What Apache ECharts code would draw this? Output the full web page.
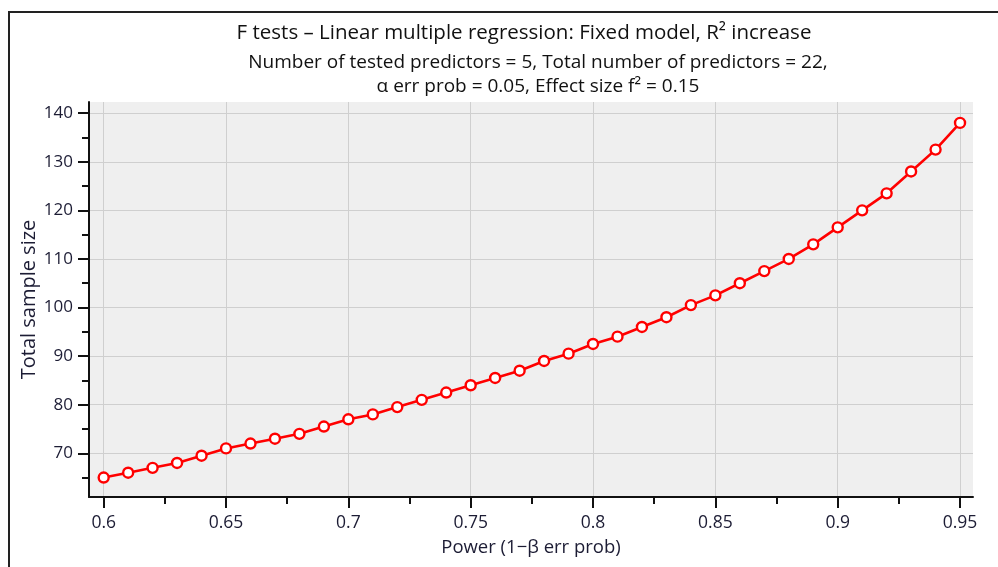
<!DOCTYPE html>
<html>
<head>
<meta charset="utf-8">
<script src="https://cdn.jsdelivr.net/npm/echarts@6/dist/echarts.min.js"></script>
<style>
  html, body { margin: 0; padding: 0; background: #fff; }
  #chart { width: 998px; height: 567px; }
</style>
</head>
<body>
<div id="chart"></div>
<script>
// power values (x) and total sample size (y)
var power = [0.60, 0.61, 0.62, 0.63, 0.64, 0.65, 0.66, 0.67, 0.68, 0.69,
             0.70, 0.71, 0.72, 0.73, 0.74, 0.75, 0.76, 0.77, 0.78, 0.79,
             0.80, 0.81, 0.82, 0.83, 0.84, 0.85, 0.86, 0.87, 0.88, 0.89,
             0.90, 0.91, 0.92, 0.93, 0.94, 0.95];
var sampleSize = [65, 66, 67, 68, 69.5, 71, 72, 73, 74, 75.5,
                  77, 78, 79.5, 81, 82.5, 84, 85.5, 87, 89, 90.5,
                  92.5, 94, 96, 98, 100.5, 102.5, 105, 107.5, 110, 113,
                  116.5, 120, 123.5, 128, 132.5, 138];
var xTicks = [0.6, 0.65, 0.7, 0.75, 0.8, 0.85, 0.9, 0.95];
var xMinorTicks = [0.625, 0.675, 0.725, 0.775, 0.825, 0.875, 0.925];
var yTicks = [70, 80, 90, 100, 110, 120, 130, 140];
var yMinorTicks = [65, 75, 85, 95, 105, 115, 125, 135];

var font = 'Open Sans';
var txt = '#1c1c34';

var points = [];
for (var i = 0; i < power.length; i++) {
  points.push([power[i], sampleSize[i]]);
}

var options = {};
options.backgroundColor = '#ffffff';
options.animation = false;
options.title = [
  {
    text: 'F tests \u2013 Linear multiple regression: Fixed model, R\u00b2 increase',
    left: 519, top: 18, textAlign: 'center',
    textStyle: { fontFamily: font, fontSize: 20.5, fontWeight: 'normal', color: '#111' }
  },
  {
    text: 'Number of tested predictors = 5, Total number of predictors = 22,\n\u03b1 err prob = 0.05, Effect size f\u00b2 = 0.15',
    left: 533, top: 46, textAlign: 'center',
    textStyle: { fontFamily: font, fontSize: 19, fontWeight: 'normal', color: '#111', lineHeight: 24, align: 'center' }
  }
];
options.graphic = [{
  type: 'rect',
  shape: { x: 9, y: 12, width: 1100, height: 700 },
  style: { fill: 'none', stroke: '#222', lineWidth: 2 },
  silent: true
}];
options.grid = {
  left: 89, right: 25, top: 102, bottom: 70,
  show: true, backgroundColor: '#efefef', borderWidth: 0
};
options.xAxis = [
  {
    type: 'value', min: 0.594, max: 0.9553,
    name: 'Power (1\u2212\u03b2 err prob)', nameLocation: 'middle', nameGap: 41,
    nameTextStyle: { fontFamily: font, fontSize: 18.5, color: txt },
    axisLine: { show: true, lineStyle: { color: '#111', width: 2 } },
    axisTick: { show: true, length: 11, customValues: xTicks, lineStyle: { color: '#111', width: 2 } },
    axisLabel: { customValues: xTicks, fontFamily: font, fontSize: 17.5, color: txt, margin: 17,
      formatter: function (v) { return String(+v.toFixed(3)); } },
    splitLine: { show: true, lineStyle: { color: '#cfcfcf', width: 1 } }
  },
  {
    type: 'value', min: 0.594, max: 0.9553, position: 'bottom',
    axisLine: { show: false },
    axisTick: { show: true, length: 7, customValues: xMinorTicks, lineStyle: { color: '#111', width: 2 } },
    axisLabel: { show: false },
    splitLine: { show: false }
  }
];
options.yAxis = [
  {
    type: 'value', min: 61, max: 142.3,
    name: 'Total sample size', nameLocation: 'middle', nameGap: 50, nameMoveOverlap: false,
    nameTextStyle: { fontFamily: font, fontSize: 20, color: txt },
    axisLine: { show: true, lineStyle: { color: '#111', width: 2 } },
    axisTick: { show: true, length: 11, customValues: yTicks, lineStyle: { color: '#111', width: 2 } },
    axisLabel: { customValues: yTicks, fontFamily: font, fontSize: 17, color: txt, margin: 16 },
    splitLine: { show: true, lineStyle: { color: '#cfcfcf', width: 1 } }
  },
  {
    type: 'value', min: 61, max: 142.3, position: 'left',
    axisLine: { show: false },
    axisTick: { show: true, length: 7, customValues: yMinorTicks, lineStyle: { color: '#111', width: 2 } },
    axisLabel: { show: false },
    splitLine: { show: false }
  }
];
options.series = [{
  type: 'line',
  data: points,
  xAxisIndex: 0, yAxisIndex: 0,
  symbol: 'circle', symbolSize: 10,
  lineStyle: { color: '#ff0000', width: 2.6 },
  itemStyle: { color: '#ffffff', borderColor: '#ff0000', borderWidth: 2.4 }
}];

var myChart = echarts.init(document.getElementById('chart'));
myChart.setOption(options);
</script>
</body>
</html>
